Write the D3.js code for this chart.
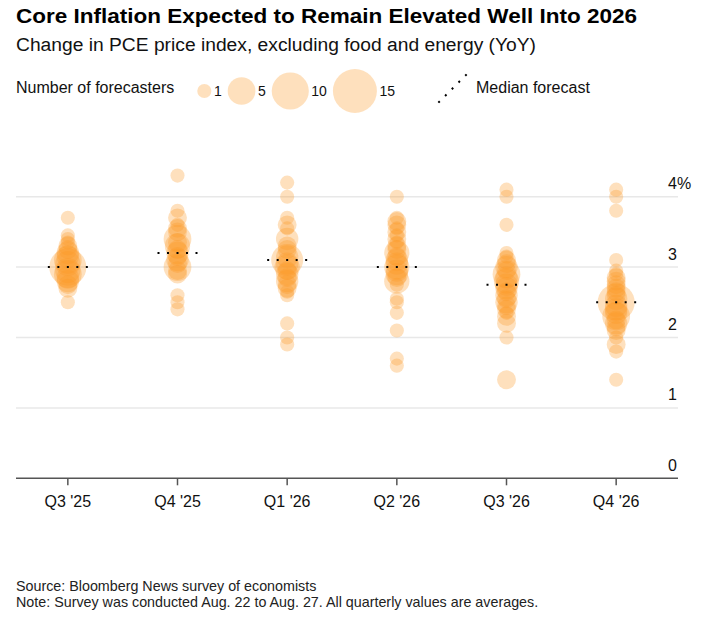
<!DOCTYPE html>
<html>
<head>
<meta charset="utf-8">
<script src="https://cdn.jsdelivr.net/npm/d3@7"></script>
<style>
  html, body { margin: 0; padding: 0; background: #fff; }
  svg { display: block; font-family: "Liberation Sans", Arial, Helvetica, sans-serif; }
</style>
</head>
<body>
<svg id="chart" width="707" height="621"></svg>
<script>
// ---------- DATA ----------
const categories = ["Q3 '25", "Q4 '25", "Q1 '26", "Q2 '26", "Q3 '26", "Q4 '26"];

// [forecast value (%), number of forecasters]
const forecastsQ3_25 = [[3.7,1],[3.45,1],[3.4,1],[3.35,1],[3.3,2],[3.25,2],[3.2,3],[3.15,3],[3.1,5],[3.05,4],[3.0,10],[2.95,4],[2.9,5],[2.85,3],[2.8,3],[2.75,2],[2.7,2],[2.5,1]];
const forecastsQ4_25 = [[4.3,1],[3.8,1],[3.7,2],[3.6,1],[3.55,2],[3.5,2],[3.4,5],[3.35,2],[3.3,4],[3.25,2],[3.2,3],[3.15,2],[3.1,3],[3.05,2],[3.0,5],[2.95,2],[2.9,2],[2.6,1],[2.5,1],[2.4,1]];
const forecastsQ1_26 = [[4.2,1],[4.0,1],[3.7,1],[3.6,2],[3.55,1],[3.4,3],[3.3,2],[3.25,2],[3.15,3],[3.1,7],[3.05,3],[3.0,4],[2.95,2],[2.9,3],[2.85,2],[2.8,3],[2.75,2],[2.7,2],[2.65,1],[2.6,1],[2.2,1],[2.0,1],[1.9,1]];
const forecastsQ2_26 = [[4.0,1],[3.7,1],[3.65,2],[3.6,2],[3.55,1],[3.5,2],[3.45,1],[3.4,2],[3.35,1],[3.3,2],[3.25,2],[3.2,4],[3.15,2],[3.1,3],[3.05,3],[3.0,4],[2.95,3],[2.9,3],[2.85,2],[2.8,4],[2.75,1],[2.55,1],[2.5,1],[2.35,1],[2.1,1],[1.7,1],[1.6,1]];
const forecastsQ3_26 = [[4.1,1],[4.0,1],[3.6,1],[3.2,1],[3.15,1],[3.1,2],[3.05,2],[3.0,3],[2.95,2],[2.9,5],[2.85,3],[2.8,4],[2.75,3],[2.7,3],[2.65,2],[2.6,3],[2.55,2],[2.5,3],[2.45,2],[2.4,2],[2.35,1],[2.3,2],[2.2,2],[2.0,1],[1.4,2]];
const forecastsQ4_26 = [[4.1,1],[4.0,1],[3.8,1],[3.1,1],[2.95,1],[2.9,1],[2.85,2],[2.8,2],[2.75,2],[2.7,2],[2.65,2],[2.6,2],[2.55,3],[2.5,10],[2.45,3],[2.4,3],[2.35,3],[2.3,5],[2.25,2],[2.2,3],[2.15,2],[2.1,2],[2.0,1],[1.9,2],[1.8,1],[1.4,1]];

const medianForecasts = [3.0, 3.2, 3.1, 3.0, 2.75, 2.5];

const yTickValues = [0, 1, 2, 3, 4];
const yTickLabels = ["0", "1", "2", "3", "4%"];

const legendSizes = [1, 5, 10, 15];

const titleText = "Core Inflation Expected to Remain Elevated Well Into 2026";
const subtitleText = "Change in PCE price index, excluding food and energy (YoY)";
const sourceText = "Source: Bloomberg News survey of economists";
const noteText = "Note: Survey was conducted Aug. 22 to Aug. 27. All quarterly values are averages.";

// ---------- BUILD ----------
const allForecasts = [forecastsQ3_25, forecastsQ4_25, forecastsQ1_26, forecastsQ2_26, forecastsQ3_26, forecastsQ4_26];
const points = [];
allForecasts.forEach((arr, i) => arr.forEach(([v, n]) => points.push({cat: categories[i], value: v, count: n})));

const svg = d3.select("#chart");
const FILL = "#fb9725";
const FILL_OP = 0.3;

const x = d3.scaleBand().domain(categories).range([13, 671]);
const y = d3.scaleLinear().domain([0, 4]).range([478.3, 196.7]);
const r = d3.scalePow().exponent(0.42).domain([0, 15]).range([0, 22]);

// Title & subtitle
svg.append("text").attr("x", 16).attr("y", 23)
  .attr("font-size", 21).attr("font-weight", "bold").attr("fill", "#000")
  .attr("textLength", 621).attr("lengthAdjust", "spacingAndGlyphs")
  .text(titleText);

svg.append("text").attr("x", 16).attr("y", 51)
  .attr("font-size", 18).attr("fill", "#111")
  .attr("textLength", 520).attr("lengthAdjust", "spacingAndGlyphs")
  .text(subtitleText);

// Legend
const legY = 91;
const lg = svg.append("g");
const legLabel = lg.append("text").attr("x", 16).attr("y", 93)
  .attr("font-size", 16).attr("fill", "#111").text("Number of forecasters");
let cursor = 16 + legLabel.node().getComputedTextLength() + 23;
legendSizes.forEach(n => {
  const rr = r(n);
  lg.append("circle").attr("cx", cursor + rr).attr("cy", legY).attr("r", rr)
    .attr("fill", FILL).attr("fill-opacity", FILL_OP);
  const t = lg.append("text").attr("x", cursor + 2 * rr + 2.5).attr("y", 96)
    .attr("font-size", 14).attr("fill", "#111").text(n);
  cursor = cursor + 2 * rr + 2.5 + t.node().getComputedTextLength() + 6;
});
// median legend (diagonal dotted line)
const mcx = 452.5, mcy = 88.5, d = 20 / Math.SQRT2;
lg.append("line").attr("x1", mcx - d).attr("y1", mcy + d).attr("x2", mcx + d).attr("y2", mcy - d)
  .attr("stroke", "#000").attr("stroke-width", 2).attr("stroke-dasharray", "2 7.5");
lg.append("text").attr("x", 476).attr("y", 93).attr("font-size", 16).attr("fill", "#111").text("Median forecast");

// Gridlines
svg.append("g").selectAll("line").data(yTickValues.filter(v => v > 0)).join("line")
  .attr("x1", 16).attr("x2", 678).attr("y1", d => y(d)).attr("y2", d => y(d))
  .attr("stroke", "#e8e8e8").attr("stroke-width", 1.5);

// Y labels
svg.append("g").selectAll("text").data(yTickValues).join("text")
  .attr("x", 668).attr("y", d => y(d) - 7.5)
  .attr("font-size", 16).attr("fill", "#111")
  .text((d, i) => yTickLabels[i]);

// X axis
const xAxis = d3.axisBottom(x).tickSize(7).tickSizeOuter(0).tickPadding(10);
const gx = svg.append("g").attr("transform", `translate(0,${y(0)})`).call(xAxis);
gx.select(".domain").attr("d", `M16,0H678`).attr("stroke", "#555").attr("stroke-width", 1.5);
gx.selectAll(".tick line").attr("stroke", "#555").attr("stroke-width", 1.5);
gx.selectAll(".tick text").attr("font-size", 16).attr("fill", "#111")
  .attr("font-family", "Liberation Sans, Arial, sans-serif");

// Bubbles
svg.append("g").selectAll("circle").data(points).join("circle")
  .attr("cx", d => x(d.cat) + x.bandwidth() / 2)
  .attr("cy", d => y(d.value))
  .attr("r", d => r(d.count))
  .attr("fill", FILL).attr("fill-opacity", FILL_OP);

// Median dotted lines
svg.append("g").selectAll("line").data(medianForecasts).join("line")
  .attr("x1", (d, i) => x(categories[i]) + x.bandwidth() / 2 - 20)
  .attr("x2", (d, i) => x(categories[i]) + x.bandwidth() / 2 + 20)
  .attr("y1", d => y(d)).attr("y2", d => y(d))
  .attr("stroke", "#000").attr("stroke-width", 2).attr("stroke-dasharray", "2 7.5");

// Footnotes
svg.append("text").attr("x", 16).attr("y", 590.5).attr("font-size", 14.3).attr("fill", "#222").text(sourceText);
svg.append("text").attr("x", 16).attr("y", 606.5).attr("font-size", 14.3).attr("fill", "#222").text(noteText);
</script>
</body>
</html>
